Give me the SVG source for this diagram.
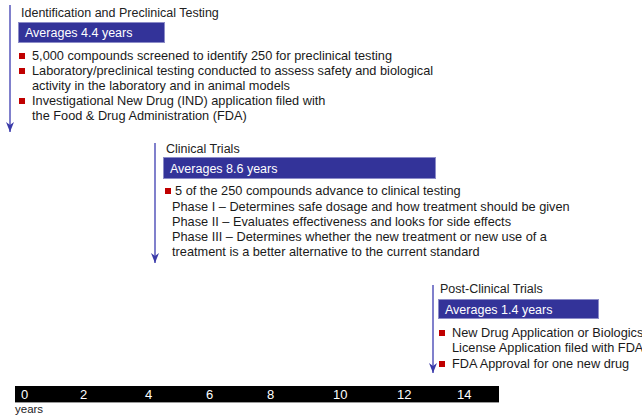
<svg xmlns="http://www.w3.org/2000/svg" width="642" height="419" viewBox="0 0 642 419">
<style>
.t{font-family:"Liberation Sans",Arial,sans-serif;font-size:12.75px;fill:#1a1a1a}
.h{font-family:"Liberation Sans",Arial,sans-serif;font-size:12.5px;fill:#222}
.bar{fill:#333399;stroke:#8c8cc8;stroke-width:1}
.bt{font-family:"Liberation Sans",Arial,sans-serif;font-size:12.5px;fill:#ffffff}
.bul{fill:#c00000}
.ax{stroke:#8080cc;stroke-width:2;fill:none}
.tl{font-family:"Liberation Sans",Arial,sans-serif;font-size:13px;fill:#ffffff}
</style>
<defs>
<marker id="ah" markerWidth="10" markerHeight="8" refX="10" refY="4" orient="auto" markerUnits="userSpaceOnUse" viewBox="0 0 10 8">
<path d="M0,0 L10,4 L0,8 L3,4 Z" fill="#3a3aa8"/>
</marker>
</defs>
<rect width="642" height="419" fill="#ffffff"/>
<g id="connectors">
<line class="ax" x1="10" y1="5" x2="10" y2="132" marker-end="url(#ah)"/>
<line class="ax" x1="155" y1="143" x2="155" y2="263" marker-end="url(#ah)"/>
<line class="ax" x1="433" y1="285" x2="433" y2="373" marker-end="url(#ah)"/>
</g>
<g id="preclinical">
<text class="h" x="21" y="17">Identification and Preclinical Testing</text>
<rect class="bar" x="18.5" y="22.5" width="146" height="20"/>
<text class="bt" x="25" y="37">Averages 4.4 years</text>
<rect class="bul" x="19" y="53" width="6" height="6"/>
<text class="t" x="32" y="60">5,000 compounds screened to identify 250 for preclinical testing</text>
<rect class="bul" x="19" y="68" width="6" height="6"/>
<text class="t" x="32" y="75">Laboratory/preclinical testing conducted to assess safety and biological</text>
<text class="t" x="32" y="90">activity in the laboratory and in animal models</text>
<rect class="bul" x="19" y="98" width="6" height="6"/>
<text class="t" x="32" y="105">Investigational New Drug (IND) application filed with</text>
<text class="t" x="32" y="120">the Food &amp; Drug Administration (FDA)</text>
</g>
<g id="clinical">
<text class="h" x="166" y="153">Clinical Trials</text>
<rect class="bar" x="163.5" y="157.5" width="272" height="21"/>
<text class="bt" x="170" y="173">Averages 8.6 years</text>
<rect class="bul" x="165" y="188" width="6" height="6"/>
<text class="t" x="175" y="195">5 of the 250 compounds advance to clinical testing</text>
<text class="t" x="172" y="211">Phase I – Determines safe dosage and how treatment should be given</text>
<text class="t" x="172" y="226">Phase II – Evaluates effectiveness and looks for side effects</text>
<text class="t" x="172" y="241">Phase III – Determines whether the new treatment or new use of a</text>
<text class="t" x="172" y="256">treatment is a better alternative to the current standard</text>
</g>
<g id="postclinical">
<text class="h" x="440" y="293">Post-Clinical Trials</text>
<rect class="bar" x="438.5" y="299.5" width="160" height="19"/>
<text class="bt" x="445" y="314">Averages 1.4 years</text>
<rect class="bul" x="439" y="330" width="6" height="6"/>
<text class="t" x="452" y="337">New Drug Application or Biologics</text>
<text class="t" x="452" y="352">License Application filed with FDA</text>
<rect class="bul" x="439" y="361" width="6" height="6"/>
<text class="t" x="452" y="368">FDA Approval for one new drug</text>
</g>
<g id="timeline">
<rect x="15" y="386" width="484" height="16" fill="#000000"/>
<line x1="15" y1="402.5" x2="499" y2="402.5" stroke="#999999" stroke-width="1"/>
<text class="tl" x="21" y="399">0</text>
<text class="tl" x="80" y="399">2</text>
<text class="tl" x="145" y="399">4</text>
<text class="tl" x="206" y="399">6</text>
<text class="tl" x="267" y="399">8</text>
<text class="tl" x="333" y="399">10</text>
<text class="tl" x="397" y="399">12</text>
<text class="tl" x="457" y="399">14</text>
<text class="h" x="15" y="413" style="font-size:11.5px">years</text>
</g>
</svg>
